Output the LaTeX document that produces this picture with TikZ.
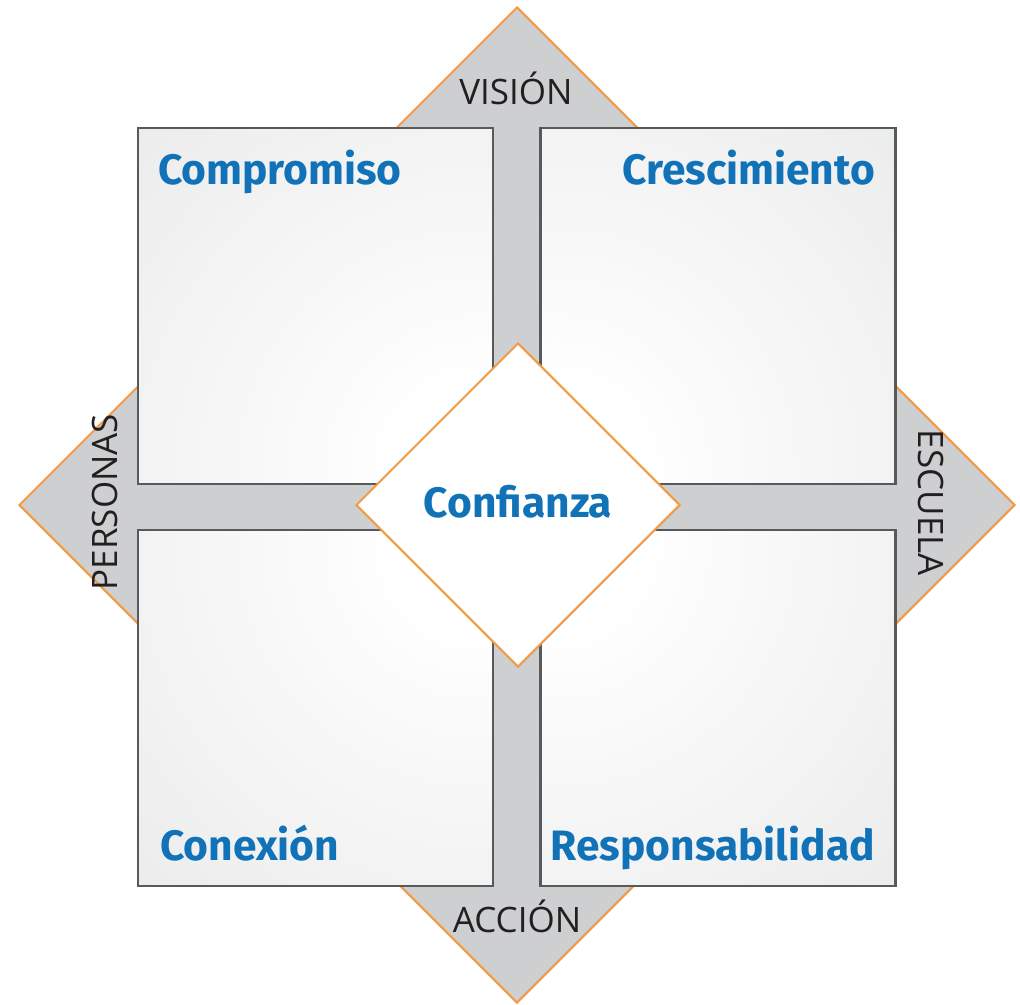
\documentclass[tikz,border=0pt]{standalone}
\usepackage{fontspec}
\setmainfont{Fira Sans}
\newfontfamily\labelfont{Open Sans}
\usetikzlibrary{shapes.geometric,calc}
\definecolor{sqgray}{HTML}{D4D5D7}
\definecolor{crossgray}{HTML}{CDCFD1}
\definecolor{sqline}{HTML}{58595B}
\definecolor{edgeorange}{HTML}{F39A45}
\definecolor{txtblue}{HTML}{1172B8}
\definecolor{txtdark}{HTML}{231F20}
\pgfdeclareradialshading{sqglow}{\pgfpoint{0bp}{0bp}}{color(0bp)=(white); color(4bp)=(white); color(50bp)=(sqgray)}
\tikzset{
  bigdiamond/.style={shape=diamond, aspect=1, draw=edgeorange, fill=crossgray, line width=2pt, minimum width=996pt, minimum height=996pt, inner sep=0pt},
  middiamond/.style={shape=diamond, aspect=1, draw=edgeorange, fill=white, line width=2pt, minimum width=324pt, minimum height=324pt, inner sep=0pt},
  sqbox/.style={draw=sqline, line width=2.5pt, minimum width=355pt, minimum height=356pt, inner sep=0pt,
    path picture={
      \fill[sqgray] (path picture bounding box.south west) rectangle (path picture bounding box.north east);
      \shade[shading=sqglow] ([shift={#1}]path picture bounding box.center) circle (490pt);
    }},
  bluetext/.style={text=txtblue, font=\fontsize{42.5}{50}\selectfont\bfseries, inner sep=0pt},
  axistext/.style={text=txtdark, font=\labelfont\fontsize{35}{40}\selectfont, inner sep=0pt},
}
\begin{document}
\begin{tikzpicture}[x=1pt,y=-1pt]
\useasboundingbox[fill=white] (0,0) rectangle (1020,1004);
\node[bigdiamond] (outer) at (517,505) {};
\node[sqbox={(165,165)}] (tl) at (315.5,306) {};
\node[sqbox={(-165,165)}] (tr) at (718,306) {};
\node[sqbox={(165,-165)}] (bl) at (315.5,708) {};
\node[sqbox={(-165,-165)}] (br) at (718,708) {};
\node[middiamond] (core) at (518,505) {};
\node[bluetext, anchor=base west] (t1) at (158,184) {Compromiso};
\node[bluetext, anchor=base east] (t2) at (875,184) {Crescimiento};
\node[bluetext, anchor=base west] (t3) at (160,860) {Conexión};
\node[bluetext, anchor=base east] (t4) at (875,860) {Responsabilidad};
\node[bluetext, anchor=base] (t5) at (518,517) {Confianza};
\node[axistext, anchor=base] (vision) at (516,104) {VISIÓN};
\node[axistext, anchor=base] (accion) at (517,932) {ACCIÓN};
\node[axistext, anchor=base, rotate=90] (personas) at (117,502) {PERSONAS};
\node[axistext, anchor=base, rotate=-90] (escuela) at (918,503) {ESCUELA};
\end{tikzpicture}
\end{document}
